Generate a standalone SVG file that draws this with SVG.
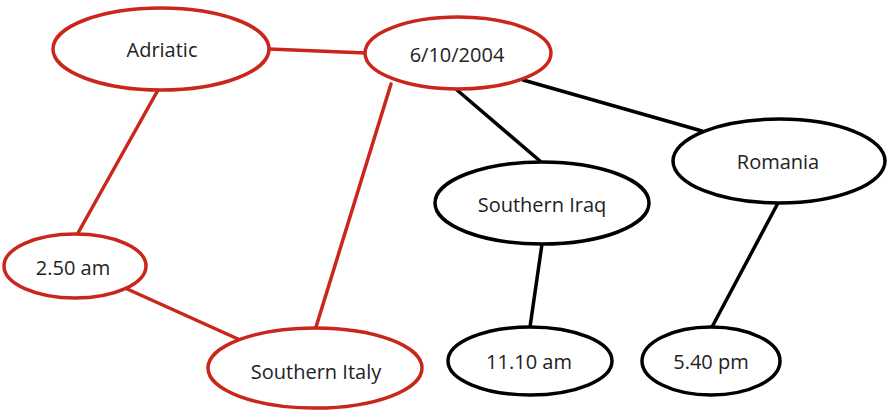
<svg xmlns="http://www.w3.org/2000/svg" width="888" height="410" viewBox="0 0 888 410">
  <style>
    .edge { stroke-width: 3.5; fill: none; stroke-linecap: round; }
    .edge.red { stroke: #c9261c; }
    .edge.black { stroke: #000; }
    .node ellipse { fill: #fff; stroke-width: 3.5; }
    .node.red ellipse { stroke: #c9261c; }
    .node.black ellipse { stroke: #000; }
    .node text { font-family: "Open Sans", "Liberation Sans", sans-serif; font-size: 20px; fill: #222; stroke: none; text-anchor: middle; }
  </style>
  <rect width="888" height="410" fill="#fff"/>
  <g id="connectors">
    <line class="edge red" x1="269" y1="49" x2="366" y2="53"/>
    <line class="edge red" x1="158" y1="90" x2="78" y2="233"/>
    <line class="edge red" x1="391" y1="84" x2="316" y2="327"/>
    <line class="edge red" x1="125" y1="288" x2="238" y2="339"/>
    <line class="edge black" x1="457" y1="90" x2="540" y2="161"/>
    <line class="edge black" x1="523" y1="80" x2="702" y2="131"/>
    <line class="edge black" x1="542" y1="244" x2="530" y2="327"/>
    <line class="edge black" x1="778" y1="203" x2="712" y2="327"/>
  </g>
  <g id="adriatic" class="node red">
    <ellipse cx="161" cy="49" rx="108" ry="41"/>
    <text x="162" y="57">Adriatic</text>
  </g>
  <g id="date" class="node red">
    <ellipse cx="458" cy="53" rx="93" ry="36"/>
    <text x="457" y="62">6/10/2004</text>
  </g>
  <g id="southern-iraq" class="node black">
    <ellipse cx="542" cy="203" rx="107" ry="41"/>
    <text x="542" y="212">Southern Iraq</text>
  </g>
  <g id="romania" class="node black">
    <ellipse cx="779" cy="161" rx="106" ry="42"/>
    <text x="778" y="169">Romania</text>
  </g>
  <g id="time-250" class="node red">
    <ellipse cx="75" cy="266" rx="71" ry="32"/>
    <text x="73" y="275">2.50 am</text>
  </g>
  <g id="southern-italy" class="node red">
    <ellipse cx="315" cy="368" rx="107" ry="40"/>
    <text x="316" y="379">Southern Italy</text>
  </g>
  <g id="time-1110" class="node black">
    <ellipse cx="530" cy="361" rx="82" ry="34"/>
    <text x="529" y="369">11.10 am</text>
  </g>
  <g id="time-540" class="node black">
    <ellipse cx="711" cy="361" rx="69" ry="34"/>
    <text x="711" y="369">5.40 pm</text>
  </g>
</svg>
